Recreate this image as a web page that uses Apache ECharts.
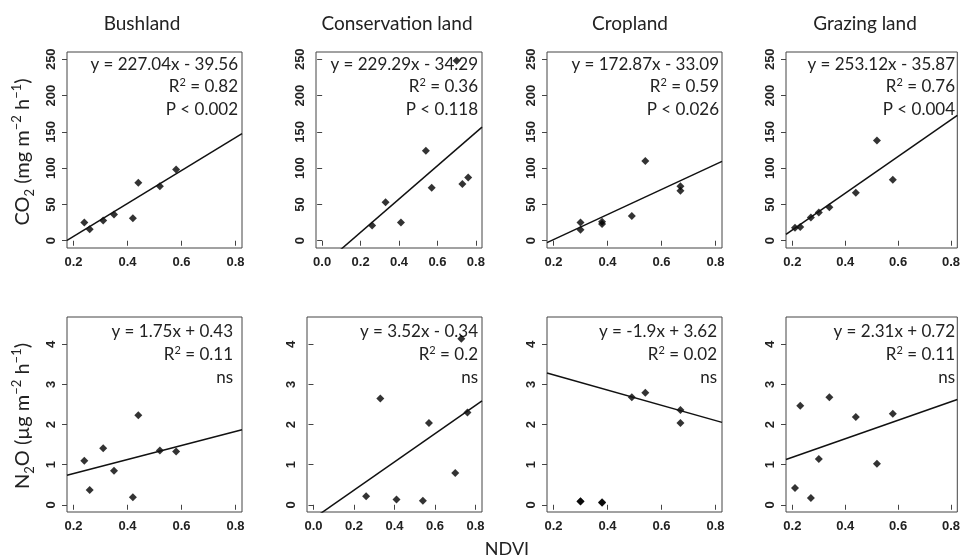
<!DOCTYPE html>
<html>
<head>
<meta charset="utf-8">
<script src="https://cdn.jsdelivr.net/npm/echarts@6/dist/echarts.min.js"></script>
<style>
html, body { margin: 0; background: #fff; }
#chart { width: 963px; height: 560px; }
</style>
</head>
<body>
<div id="chart"></div>
<script>
// panels, left to right
const landTypes = ['Bushland', 'Conservation land', 'Cropland', 'Grazing land']

// NDVI (x) and fluxes (y) per land type
const ndviBush = [0.24, 0.26, 0.31, 0.35, 0.42, 0.44, 0.52, 0.58]
const co2Bush = [25, 16, 28, 36, 31, 80, 75, 98]
const n2oBush = [1.10, 0.37, 1.41, 0.85, 0.19, 2.23, 1.35, 1.33]

const ndviCons = [0.26, 0.33, 0.41, 0.54, 0.57, 0.70, 0.73, 0.76]
const co2Cons = [21, 53, 25, 124, 73, 248, 78, 87]
const n2oCons = [0.21, 2.65, 0.13, 0.10, 2.04, 0.79, 4.14, 2.30]

const ndviCrop = [0.30, 0.30, 0.38, 0.38, 0.49, 0.54, 0.67, 0.67]
const co2Crop = [25, 15, 26, 23, 34, 110, 75, 69]
const n2oCrop = [0.09, 0.08, 0.06, 0.05, 2.68, 2.79, 2.36, 2.04]

const ndviGraze = [0.21, 0.23, 0.27, 0.30, 0.34, 0.44, 0.52, 0.58]
const co2Graze = [18, 19, 32, 39, 46, 66, 138, 84]
const n2oGraze = [0.42, 2.47, 0.17, 1.14, 2.68, 2.19, 1.02, 2.27]

// fitted lines
const co2Slope = [227.04, 229.29, 172.87, 253.12]
const co2Intercept = [-39.56, -34.29, -33.09, -35.87]
const co2Eq = ['y = 227.04x - 39.56', 'y = 229.29x - 34.29', 'y = 172.87x - 33.09', 'y = 253.12x - 35.87']
const co2R2 = ['0.82', '0.36', '0.59', '0.76']
const co2P = ['P < 0.002', 'P < 0.118', 'P < 0.026', 'P < 0.004']

const n2oSlope = [1.75, 3.52, -1.9, 2.31]
const n2oIntercept = [0.43, -0.34, 3.62, 0.72]
const n2oEq = ['y = 1.75x + 0.43', 'y = 3.52x - 0.34', 'y = -1.9x + 3.62', 'y = 2.31x + 0.72']
const n2oR2 = ['0.11', '0.2', '0.02', '0.11']
const n2oP = ['ns', 'ns', 'ns', 'ns']

// tick labels
const ndviTicks = [0.2, 0.4, 0.6, 0.8]
const ndviTicksCons = [0.0, 0.2, 0.4, 0.6, 0.8]
const co2Ticks = [0, 50, 100, 150, 200, 250]
const n2oTicks = [0, 1, 2, 3, 4]

const ndviAll = [ndviBush, ndviCons, ndviCrop, ndviGraze]
const co2All = [co2Bush, co2Cons, co2Crop, co2Graze]
const n2oAll = [n2oBush, n2oCons, n2oCrop, n2oGraze]

// plot boxes (R style, 4% padding around the limits)
const xRange = [[0.176, 0.824], [-0.032, 0.832], [0.176, 0.824], [0.176, 0.824]]
const co2Range = [-10, 260]
const n2oRange = [-0.18, 4.68]
const boxes = [
  { left: 67, top: 52, width: 175, height: 196 },
  { left: 316, top: 52, width: 166, height: 196 },
  { left: 547, top: 52, width: 175, height: 196 },
  { left: 786, top: 52, width: 178, height: 196 },
  { left: 67, top: 317, width: 175, height: 195 },
  { left: 307, top: 317, width: 175, height: 195 },
  { left: 547, top: 317, width: 175, height: 195 },
  { left: 786, top: 317, width: 178, height: 195 }
]
const titleX = [142, 397, 630, 865]
const noteRight = [238, 478, 719, 955, 233, 478, 717, 955]

const tickFont = { fontFamily: 'Liberation Sans', fontWeight: 'bold', fontSize: 13, color: '#222' }
const textFont = 'Lato'
const supStyle = { fontFamily: textFont, fontSize: 11, verticalAlign: 'top', fill: '#222' }

const grid = []
const xAxis = []
const yAxis = []
const series = []
const graphic = []

for (let row = 0; row < 2; row++) {
  for (let col = 0; col < 4; col++) {
    const g = row * 4 + col
    const xs = ndviAll[col]
    const ys = row === 0 ? co2All[col] : n2oAll[col]
    const yr = row === 0 ? co2Range : n2oRange
    const yt = row === 0 ? co2Ticks : n2oTicks
    const xt = col === 1 ? ndviTicksCons : ndviTicks
    const slope = row === 0 ? co2Slope[col] : n2oSlope[col]
    const icpt = row === 0 ? co2Intercept[col] : n2oIntercept[col]
    const [x0, x1] = xRange[col]

    grid.push(Object.assign({ show: true, borderColor: '#444', borderWidth: 1, containLabel: false }, boxes[g]))

    xAxis.push({
      type: 'value',
      gridIndex: g,
      min: x0,
      max: x1,
      axisLine: { show: false },
      splitLine: { show: false },
      axisTick: { show: true, customValues: xt, length: 5, lineStyle: { color: '#444' } },
      axisLabel: Object.assign({ customValues: xt, margin: 8, formatter: v => v.toFixed(1) }, tickFont)
    })
    yAxis.push({
      type: 'value',
      gridIndex: g,
      min: yr[0],
      max: yr[1],
      axisLine: { show: false },
      splitLine: { show: false },
      axisTick: { show: true, customValues: yt, length: 5, lineStyle: { color: '#444' } },
      axisLabel: Object.assign({ customValues: yt, margin: 9, rotate: 90 }, tickFont)
    })

    series.push({
      type: 'line',
      xAxisIndex: g,
      yAxisIndex: g,
      data: [[x0, slope * x0 + icpt], [x1, slope * x1 + icpt]],
      symbol: 'none',
      clip: true,
      lineStyle: { color: '#111', width: 1.5 },
      silent: true
    })
    series.push({
      type: 'scatter',
      xAxisIndex: g,
      yAxisIndex: g,
      data: xs.map((x, i) => [x, ys[i]]),
      symbol: 'diamond',
      symbolSize: 8,
      itemStyle: { color: '#000' }
    })

    // regression notes
    const lines = row === 0
      ? [co2Eq[col], 'R{sup|2} = ' + co2R2[col], co2P[col]]
      : [n2oEq[col], 'R{sup|2} = ' + n2oR2[col], n2oP[col]]
    const lineY = row === 0 ? [65, 87, 110] : [332, 355, 378]
    lines.forEach((t, k) => {
      graphic.push({
        type: 'text',
        x: noteRight[g],
        y: lineY[k],
        style: {
          text: t,
          align: 'right',
          verticalAlign: 'middle',
          fontFamily: textFont,
          fontSize: 17,
          lineHeight: 20,
          fill: '#222',
          rich: { sup: supStyle }
        }
      })
    })
  }
}

landTypes.forEach((name, i) => {
  graphic.push({
    type: 'text',
    x: titleX[i],
    y: 24,
    style: { text: name, align: 'center', verticalAlign: 'middle', fontFamily: textFont, fontSize: 19, fill: '#222' }
  })
})

const axisTitleRich = {
  sup: { fontFamily: textFont, fontSize: 13, verticalAlign: 'top', fill: '#222' },
  sub: { fontFamily: textFont, fontSize: 13, verticalAlign: 'bottom', fill: '#222' }
}
graphic.push({
  type: 'text',
  x: 23,
  y: 152,
  rotation: Math.PI / 2,
  style: {
    text: 'CO{sub|2} (mg m{sup|−2} h{sup|−1})',
    align: 'center',
    verticalAlign: 'middle',
    fontFamily: textFont,
    fontSize: 20,
    lineHeight: 26,
    fill: '#222',
    rich: axisTitleRich
  }
})
graphic.push({
  type: 'text',
  x: 23,
  y: 416,
  rotation: Math.PI / 2,
  style: {
    text: 'N{sub|2}O (µg m{sup|−2} h{sup|−1})',
    align: 'center',
    verticalAlign: 'middle',
    fontFamily: textFont,
    fontSize: 20,
    lineHeight: 26,
    fill: '#222',
    rich: axisTitleRich
  }
})
graphic.push({
  type: 'text',
  x: 507,
  y: 549,
  style: { text: 'NDVI', align: 'center', verticalAlign: 'middle', fontFamily: textFont, fontSize: 18, fill: '#222' }
})

const myChart = echarts.init(document.getElementById('chart'))
myChart.setOption({
  animation: false,
  backgroundColor: '#fff',
  grid,
  xAxis,
  yAxis,
  series,
  graphic
})
</script>
</body>
</html>
